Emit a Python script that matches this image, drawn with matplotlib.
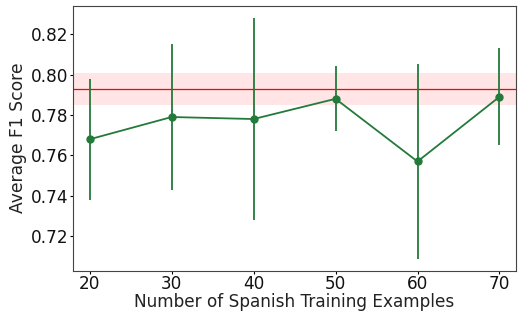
import matplotlib.pyplot as plt

examples = [20, 30, 40, 50, 60, 70]
f1_mean = [0.768, 0.779, 0.778, 0.788, 0.757, 0.789]
f1_err = [0.030, 0.036, 0.050, 0.016, 0.048, 0.024]
baseline = 0.793
baseline_err = 0.008

fig, ax = plt.subplots(figsize=(5.2, 3.11), dpi=100)
ax.axhspan(baseline - baseline_err, baseline + baseline_err, color='red', alpha=0.1, lw=0)
ax.axhline(baseline, color='red', lw=0.9)
ax.errorbar(examples, f1_mean, yerr=f1_err, color='#237a3b', marker='o', ms=5, lw=1.3, elinewidth=1.3)
ax.set_xlim(18, 72)
ax.set_xlabel('Number of Spanish Training Examples', fontsize=12.2, color='#222222')
ax.xaxis.set_label_coords(0.5, -0.086)
ax.set_ylabel('Average F1 Score', fontsize=12.3, color='#222222')
ax.yaxis.set_label_coords(-0.104, 0.5)
ax.tick_params(labelsize=12.2, length=2.5, pad=1, labelcolor='#111111')
for s in ax.spines.values():
    s.set_color('#444444')
plt.subplots_adjust(left=0.141, right=0.992, top=0.981, bottom=0.13)
plt.savefig('out.png')
